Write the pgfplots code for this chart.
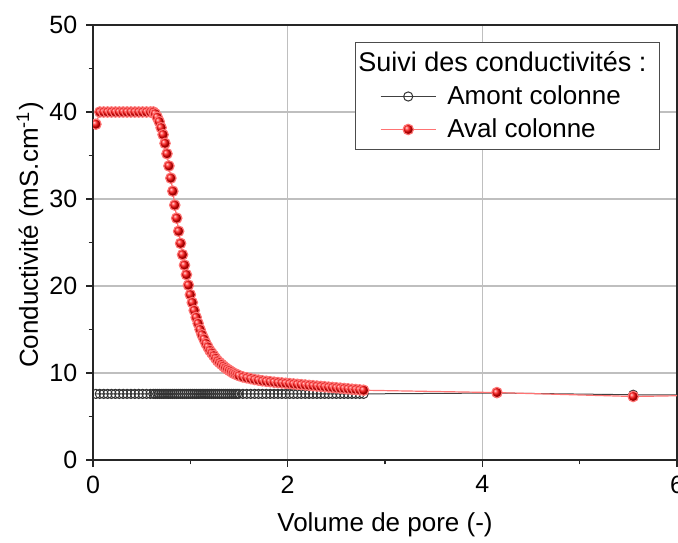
\documentclass[border=0pt]{standalone}
\usepackage{pgfplots}
\pgfplotsset{compat=1.18}
\usepackage{pgfplotstable}
\usepackage{fontspec}
\setmainfont{Liberation Sans}

\pgfplotstableread{
x aval amont
0.03 38.6 7.6
0.07 40.0 7.6
0.11 40.0 7.6
0.15 40.0 7.6
0.19 40.0 7.6
0.23 40.0 7.6
0.27 40.0 7.6
0.31 40.0 7.6
0.35 40.0 7.6
0.39 40.0 7.6
0.43 40.0 7.6
0.47 40.0 7.6
0.51 40.0 7.6
0.55 40.0 7.6
0.59 40.0 7.6
0.62 40.0 7.6
0.64 39.8 7.6
0.66 39.4 7.6
0.68 38.9 7.6
0.70 38.2 7.6
0.72 37.4 7.6
0.74 36.4 7.6
0.76 35.2 7.6
0.78 33.8 7.6
0.80 32.4 7.6
0.82 30.9 7.6
0.84 29.3 7.6
0.86 27.8 7.6
0.88 26.3 7.6
0.90 24.9 7.6
0.92 23.6 7.6
0.94 22.4 7.6
0.96 21.3 7.6
0.98 20.1 7.6
1.00 19.0 7.6
1.02 18.1 7.6
1.04 17.2 7.6
1.06 16.4 7.6
1.08 15.7 7.6
1.10 15.0 7.6
1.12 14.4 7.6
1.14 13.9 7.6
1.16 13.4 7.6
1.18 13.0 7.6
1.20 12.6 7.6
1.22 12.3 7.6
1.24 12.0 7.6
1.26 11.7 7.6
1.28 11.4 7.6
1.30 11.2 7.6
1.32 11.0 7.6
1.34 10.8 7.6
1.36 10.6 7.6
1.38 10.45 7.6
1.40 10.3 7.6
1.42 10.15 7.6
1.44 10.0 7.6
1.46 9.9 7.6
1.48 9.8 7.6
1.50 9.7 7.6
1.54 9.55 7.6
1.58 9.45 7.6
1.62 9.35 7.6
1.66 9.25 7.6
1.70 9.18 7.6
1.74 9.1 7.6
1.78 9.05 7.6
1.82 9.0 7.6
1.86 8.95 7.6
1.90 8.9 7.6
1.94 8.86 7.6
1.98 8.82 7.6
2.02 8.78 7.6
2.06 8.74 7.6
2.10 8.70 7.6
2.14 8.66 7.6
2.18 8.62 7.6
2.22 8.58 7.6
2.26 8.54 7.6
2.30 8.50 7.6
2.34 8.46 7.6
2.38 8.42 7.6
2.42 8.38 7.6
2.46 8.34 7.6
2.50 8.30 7.6
2.54 8.26 7.6
2.58 8.22 7.6
2.62 8.18 7.6
2.66 8.14 7.6
2.70 8.10 7.6
2.74 8.06 7.6
2.78 8.02 7.6
4.15 7.75 7.7
5.55 7.30 7.5
6.60 7.50 7.45
}\data

\begin{document}
\fontsize{12.5}{15}\selectfont
\begin{tikzpicture}
\begin{axis}[
  width=292pt, height=217.5pt, scale only axis,
  xmin=0, xmax=6, ymin=0, ymax=50,
  xtick={0,2,4,6}, ytick={0,10,20,30,40,50},
  minor x tick num=1, minor y tick num=1,
  tick align=outside, xtick pos=left, ytick pos=left,
  major tick length=3.5pt, minor tick length=2.2pt,
  grid=major, major grid style={black!25, line width=0.6pt},
  axis line style={line width=0.8pt, black!85},
  every tick/.style={black!85, line width=0.8pt},
  tick label style={font=\fontsize{12.5}{15}\selectfont},
  /pgf/number format/assume math mode=true,
  xlabel={Volume de pore (-)},
  ylabel={Conductivité (mS.cm\textsuperscript{-1})},
  label style={font=\fontsize{13}{15}\selectfont},
  xlabel style={at={(axis description cs:0.5,-0.149)}, anchor=center},
  ylabel style={at={(axis description cs:-0.108,0.517)}, anchor=center},
  clip marker paths=true,
  legend style={at={(0.971,0.961)}, anchor=north east, draw=black!70,
    line width=0.6pt, font=\fontsize{13}{15}\selectfont,
    row sep=1.2pt, inner xsep=4.5pt, inner ysep=2.3pt},
  legend cell align=left,
  legend image code/.code={\path (0pt,0pt) (39pt,0pt); \draw[mark repeat=2,mark phase=2] plot coordinates {(8pt,0pt) (21.75pt,0pt) (35.5pt,0pt)};},
]
\coordinate (sw) at (rel axis cs:0,0);
\coordinate (ne) at (rel axis cs:1,1);
\addlegendimage{empty legend}
\addlegendentry{\hspace{-44.5pt}\fontsize{13.5}{15}\selectfont Suivi des conductivités :}
\addplot[black!75, line width=0.5pt, mark=o, mark size=2.3pt,
  mark options={fill=white, draw=black!80, line width=0.5pt}]
  table[x=x, y=amont] {\data};
\addlegendentry{Amont colonne}
\addplot[red!55, line width=0.6pt, mark=ball, mark size=2.6pt,
  mark options={ball color=red}]
  table[x=x, y=aval] {\data};
\addlegendentry{Aval colonne}
\end{axis}
\pgfresetboundingbox
\path[use as bounding box] ([shift={(-46.5pt,-41pt)}]sw) rectangle ([shift={(0.5pt,12.5pt)}]ne);
\end{tikzpicture}
\end{document}
